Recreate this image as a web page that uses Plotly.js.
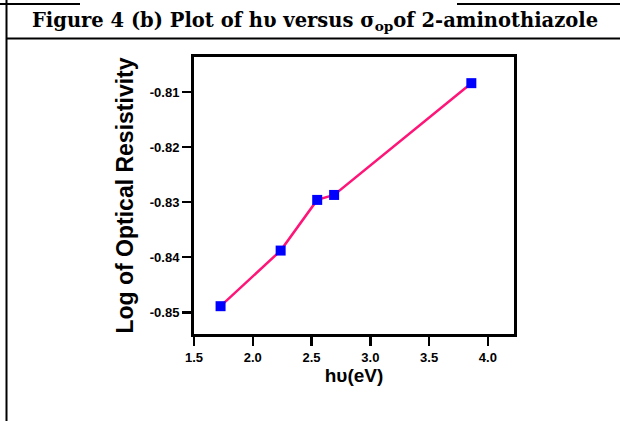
<!DOCTYPE html>
<html>
<head>
<meta charset="utf-8">
<script src="https://cdn.plot.ly/plotly-3.0.1.min.js"></script>
<style>
html,body{margin:0;padding:0;background:#fff;}
#chart{width:620px;height:421px;}
</style>
</head>
<body>
<div id="chart"></div>
<script>
// Data
const photonEnergy = [1.726, 2.237, 2.548, 2.692, 3.859];
const logOpticalResistivity = [-0.8489, -0.8388, -0.8296, -0.8287, -0.8084];
const xTickVals = [1.5, 2.0, 2.5, 3.0, 3.5, 4.0];
const xTickText = ["1.5", "2.0", "2.5", "3.0", "3.5", "4.0"];
const yTickVals = [-0.85, -0.84, -0.83, -0.82, -0.81];
const yTickText = ["-0.85", "-0.84", "-0.83", "-0.82", "-0.81"];

const W = 620, H = 421;
const L = 194, R = 514, T = 57, B = 334;
const px = x => (x - L) / (R - L);
const py = y => (B - y) / (B - T);

const trace = {
  x: photonEnergy,
  y: logOpticalResistivity,
  mode: 'lines+markers',
  type: 'scatter',
  line: {color: '#ff1478', width: 2.5},
  marker: {symbol: 'square', size: 10, color: '#0000ff'},
  cliponaxis: false,
  hoverinfo: 'skip'
};

const axisFont = {family: 'Liberation Sans, Arial, sans-serif', size: 13, color: '#000', weight: 'bold'};

const layout = {
  width: W, height: H,
  margin: {l: L, r: W - R, t: T, b: H - B, pad: 0},
  paper_bgcolor: '#fff', plot_bgcolor: '#fff',
  showlegend: false,
  xaxis: {
    range: [1.5, 4.222],
    tickvals: xTickVals, ticktext: xTickText,
    ticks: 'outside', ticklen: 9, tickwidth: 2.5, tickcolor: '#000',
    showline: true, linewidth: 3, linecolor: '#000', mirror: true,
    showgrid: false, zeroline: false,
    tickfont: axisFont,
    title: {text: 'h\u03c5(eV)', font: {family: 'Liberation Sans, Arial, sans-serif', size: 19, color: '#000', weight: 'bold'}, standoff: 2}
  },
  yaxis: {
    range: [-0.85395, -0.80365],
    tickvals: yTickVals, ticktext: yTickText,
    ticks: 'outside', ticklen: 9, tickwidth: 2.5, tickcolor: '#000',
    showline: true, linewidth: 3, linecolor: '#000', mirror: true,
    showgrid: false, zeroline: false,
    tickfont: axisFont,
    title: {text: 'Log of Optical Resistivity', font: {family: 'Liberation Sans, Arial, sans-serif', size: 23, color: '#000', weight: 'bold'}, standoff: 10}
  },
  shapes: [
    {type: 'line', xref: 'paper', yref: 'paper', x0: px(0), x1: px(80), y0: py(4), y1: py(4), line: {color: '#000', width: 2}},
    {type: 'line', xref: 'paper', yref: 'paper', x0: px(457), x1: px(620), y0: py(4), y1: py(4), line: {color: '#000', width: 2}},
    {type: 'line', xref: 'paper', yref: 'paper', x0: px(6), x1: px(620), y0: py(38.5), y1: py(38.5), line: {color: '#000', width: 2}},
    {type: 'line', xref: 'paper', yref: 'paper', x0: px(6.5), x1: px(6.5), y0: py(0), y1: py(421), line: {color: '#000', width: 2}}
  ],
  annotations: [
    {xref: 'paper', yref: 'paper', x: px(315), y: py(22), xanchor: 'center', yanchor: 'middle', showarrow: false,
     text: '<b>Figure 4 (b) Plot of h\u03c5 versus \u03c3<sub>op</sub>of 2-aminothiazole</b>',
     font: {family: 'DejaVu Serif, Liberation Serif, serif', size: 19.5, color: '#000'}}
  ]
};

Plotly.newPlot('chart', [trace], layout, {staticPlot: true, displayModeBar: false});
</script>
</body>
</html>
